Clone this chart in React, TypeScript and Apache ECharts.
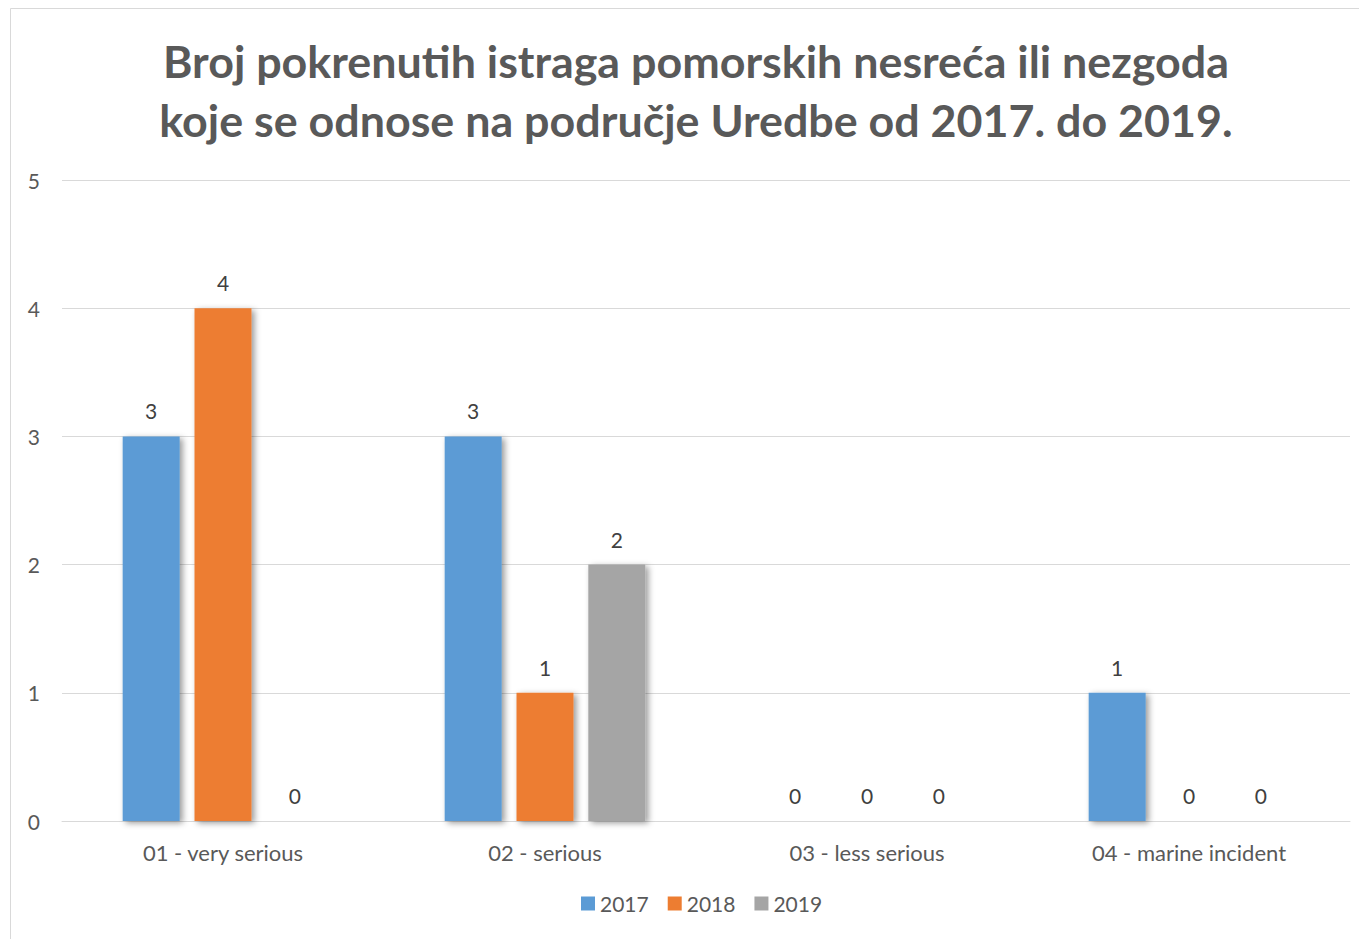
import React, { useEffect, useRef } from "react";
import * as echarts from "echarts";

const titleText = "Broj pokrenutih istraga pomorskih nesreća ili nezgoda\nkoje se odnose na područje Uredbe od 2017. do 2019.";
const categories = ["01 - very serious", "02 - serious", "03 - less serious", "04 - marine incident"];
const seriesNames = ["2017", "2018", "2019"];
const values2017 = [3, 3, 0, 1];
const values2018 = [4, 1, 0, 0];
const values2019 = [0, 2, 0, 0];
const colors = ["#5B9BD5", "#ED7D31", "#A5A5A5"];

export default function App() {
  const ref = useRef<HTMLDivElement>(null);
  useEffect(() => {
    if (!ref.current) return;
    const chart = echarts.init(ref.current, undefined, { renderer: "svg" });
    const font = "Lato, 'Noto Sans', sans-serif";
    const data = [values2017, values2018, values2019];
    chart.setOption({
      animation: false,
      backgroundColor: "#ffffff",
      title: {
        text: titleText,
        left: 691,
        top: 26,
        textAlign: "center",
        textStyle: {
          fontFamily: font,
          fontWeight: "bold",
          fontSize: 44.8,
          lineHeight: 59,
          color: "#595959",
        },
      },
      graphic: [
        {
          type: "rect",
          shape: { x: 10.5, y: 8.5, width: 1400, height: 1000 },
          style: { fill: "none", stroke: "#d9d9d9", lineWidth: 1 },
          silent: true,
          z: -1,
        },
      ],
      legend: {
        data: seriesNames,
        left: 576,
        top: 888,
        itemWidth: 14,
        itemHeight: 14,
        itemGap: 19,
        icon: "rect",
        textStyle: { fontFamily: font, fontSize: 21, color: "#595959" },
      },
      grid: { left: 62, right: 9, top: 180, bottom: 118, containLabel: false },
      xAxis: {
        type: "category",
        data: categories,
        axisLine: { lineStyle: { color: "#d9d9d9", width: 1 } },
        axisTick: { show: false },
        axisLabel: { fontFamily: font, fontSize: 22, color: "#595959", margin: 20 },
      },
      yAxis: {
        type: "value",
        min: 0,
        max: 5,
        interval: 1,
        axisLine: { show: false },
        axisTick: { show: false },
        splitLine: { lineStyle: { color: "#d9d9d9", width: 1 } },
        axisLabel: { fontFamily: font, fontSize: 21, color: "#595959", margin: 22 },
      },
      series: seriesNames.map((name, i) => ({
        name,
        type: "bar",
        data: data[i],
        barWidth: 57,
        barGap: "26%",
        itemStyle: {
          color: colors[i],
          shadowBlur: 6,
          shadowOffsetX: 3,
          shadowOffsetY: 2,
          shadowColor: "rgba(0,0,0,0.4)",
        },
        label: {
          show: true,
          position: "top",
          distance: 15,
          fontFamily: font,
          fontSize: 21,
          color: "#404040",
        },
      })),
    });
    return () => chart.dispose();
  }, []);
  return (
    <div
      ref={ref}
      style={{ position: "fixed", left: 0, top: 0, width: 1359, height: 939 }}
    />
  );
}
